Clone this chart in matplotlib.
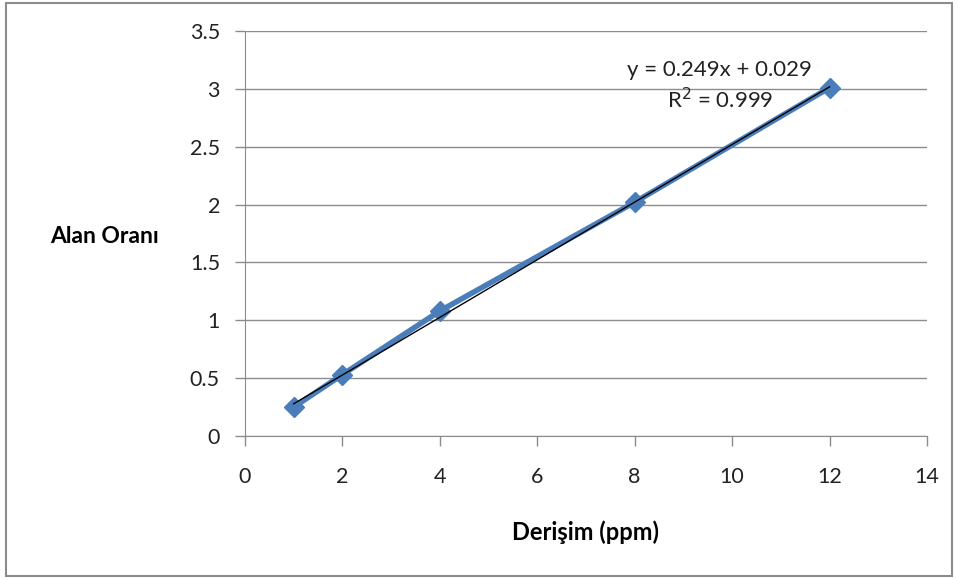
import matplotlib
matplotlib.use("Agg")
import matplotlib.pyplot as plt
from matplotlib.patches import Rectangle
import numpy as np

plt.rcParams["font.family"] = ["Lato", "DejaVu Sans"]

concentration = [1, 2, 4, 8, 12]
area_ratio = [0.25, 0.53, 1.08, 2.02, 3.01]
slope = 0.249
intercept = 0.029
x_ticks = [0, 2, 4, 6, 8, 10, 12, 14]
y_ticks = [0, 0.5, 1, 1.5, 2, 2.5, 3, 3.5]
y_tick_labels = ["0", "0.5", "1", "1.5", "2", "2.5", "3", "3.5"]

fig = plt.figure(figsize=(9.58, 5.79), dpi=100)
fig.patches.append(Rectangle((0.006, 0.006), 0.988, 0.988, transform=fig.transFigure,
                             fill=False, edgecolor="#8c8c8c", linewidth=1.5))
ax = fig.add_axes([0.2557, 0.2470, 0.7119, 0.6995])

ax.plot(concentration, area_ratio, color="#4a7ebb", linewidth=4, marker="D",
        markersize=10, markeredgecolor="#4a7ebb", zorder=3)
fit_x = np.array([concentration[0], concentration[-1]])
ax.plot(fit_x, slope * fit_x + intercept, color="black", linewidth=1, zorder=4)

ax.set_xlim(0, 14)
ax.set_ylim(0, 3.5)
ax.set_xticks(x_ticks)
ax.set_yticks(y_ticks)
ax.set_yticklabels(y_tick_labels)
ax.grid(axis="y", color="#8c8c8c", linewidth=1)
ax.set_axisbelow(True)
for side in ["top", "right"]:
    ax.spines[side].set_visible(False)
for side in ["left", "bottom"]:
    ax.spines[side].set_color("#8c8c8c")
ax.tick_params(axis="both", colors="#8c8c8c", labelcolor="#222222",
               labelsize=15.5, length=7, width=1)
ax.tick_params(axis="y", pad=11)
ax.tick_params(axis="x", pad=15)

# trendline label, as Excel places it
ax.text(9.75, 2.80, "y = 0.249x + 0.029\nR$^2$ = 0.999", fontsize=16,
        ha="center", va="bottom", linespacing=1.3, color="#222222")

fig.text(0.109, 0.591, "Alan Oranı", fontsize=16.5, fontweight="bold",
         ha="center", va="center")
fig.text(0.611, 0.081, "Derişim (ppm)", fontsize=17, fontweight="bold",
         ha="center", va="center")

fig.savefig("out.png", dpi=100)
